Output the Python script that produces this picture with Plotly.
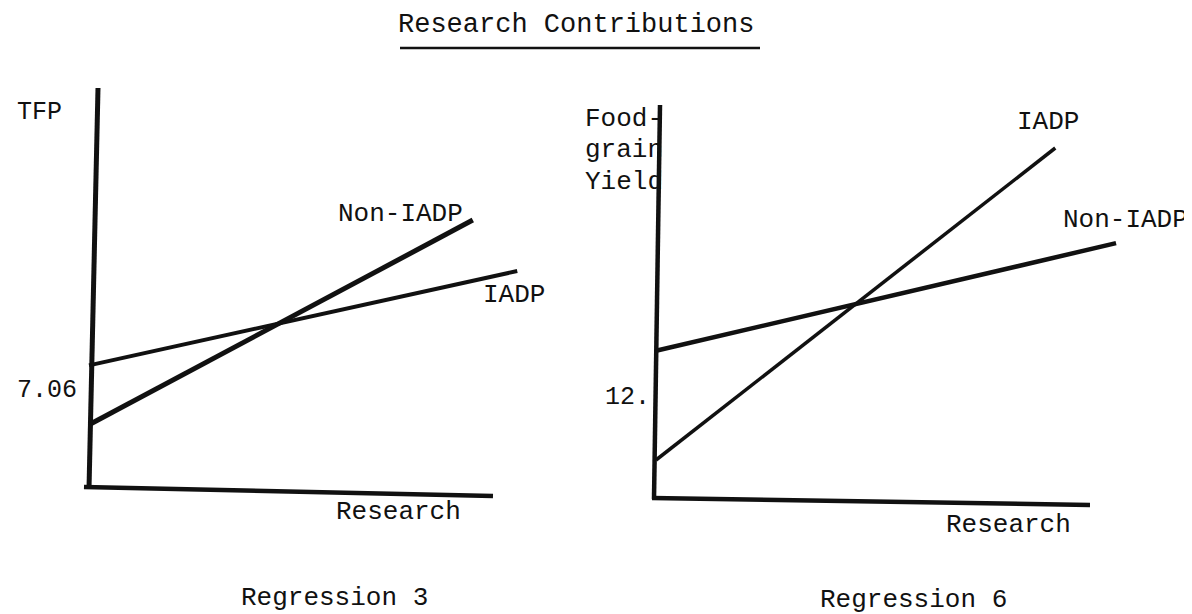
import plotly.graph_objects as go

# ---------------- data (conceptual diagram values) ----------------
# Regression 3 : TFP vs Research
reg3_iadp_research = [0.0, 10.6]
reg3_iadp_tfp = [7.30, 8.30]
reg3_non_research = [0.0, 9.5]
reg3_non_tfp = [6.67, 8.84]
reg3_tick_vals = [7.06]
reg3_tick_text = ["7.06"]

# Regression 6 : Foodgrain yield vs Research
reg6_iadp_research = [0.0, 9.2]
reg6_iadp_yield = [10.75, 16.75]
reg6_non_research = [0.0, 10.6]
reg6_non_yield = [12.85, 14.92]
reg6_tick_vals = [12]
reg6_tick_text = ["12."]

# ---------------- layout helpers ----------------
W, H = 1192, 614
FONT = "Liberation Mono, Courier New, monospace"
INK = "#111111"


def fx(p):
    return p / W


def fy(p):
    return 1 - p / H


def lin(d0, p0, d1, p1):
    s = (p1 - p0) / (d1 - d0)
    return (lambda p: d0 + (p - p0) / s)


# pixel <-> data calibration for each panel
L_x = lin(0, 81, 10, 485)
L_y = lin(6, 480, 7.06, 380)
R_x = lin(0, 648, 10, 1082)
R_y = lin(10, 491, 12, 387)

L_dom_x = (70, 520)
L_dom_y = (495, 75)
R_dom_x = (643, 1120)
R_dom_y = (500, 90)

fig = go.Figure()

fig.add_trace(go.Scatter(x=reg3_non_research, y=reg3_non_tfp, mode="lines",
                         line=dict(color=INK, width=5), xaxis="x", yaxis="y",
                         name="Non-IADP", showlegend=False, hoverinfo="skip"))
fig.add_trace(go.Scatter(x=reg3_iadp_research, y=reg3_iadp_tfp, mode="lines",
                         line=dict(color=INK, width=4), xaxis="x", yaxis="y",
                         name="IADP", showlegend=False, hoverinfo="skip"))
fig.add_trace(go.Scatter(x=reg6_iadp_research, y=reg6_iadp_yield, mode="lines",
                         line=dict(color=INK, width=3.5), xaxis="x2", yaxis="y2",
                         name="IADP", showlegend=False, hoverinfo="skip"))
fig.add_trace(go.Scatter(x=reg6_non_research, y=reg6_non_yield, mode="lines",
                         line=dict(color=INK, width=4.5), xaxis="x2", yaxis="y2",
                         name="Non-IADP", showlegend=False, hoverinfo="skip"))

common_x = dict(showgrid=False, zeroline=False, showline=False,
                showticklabels=False, ticks="", fixedrange=True)
common_y = dict(showgrid=False, zeroline=False, showline=False, ticks="",
                tickfont=dict(family=FONT, size=25, color=INK), fixedrange=True,
                ticklabelstandoff=0)

shapes = []


def axis_line(xr, yr, fxm, fym, p_a, p_b, w):
    shapes.append(dict(type="line", xref=xr, yref=yr,
                       x0=fxm(p_a[0]), y0=fym(p_a[1]), x1=fxm(p_b[0]), y1=fym(p_b[1]),
                       line=dict(color=INK, width=w), layer="above"))


# hand-drawn axes (slightly slanted as in the original)
axis_line("x", "y", L_x, L_y, (81, 481), (90, 80), 5)
axis_line("x", "y", L_x, L_y, (76, 479), (485, 488), 4.5)
axis_line("x2", "y2", R_x, R_y, (646, 491), (652, 97), 4.5)
axis_line("x2", "y2", R_x, R_y, (644, 490), (1082, 497), 4.5)

# title underline
shapes.append(dict(type="line", xref="paper", yref="paper",
                   x0=fx(392), x1=fx(752), y0=fy(40), y1=fy(40),
                   line=dict(color=INK, width=2.5)))

annotations = []


def label(text, x, y, size=26, xanchor="center"):
    annotations.append(dict(text=text, xref="paper", yref="paper",
                            x=fx(x), y=fy(y), xanchor=xanchor, yanchor="middle",
                            showarrow=False,
                            font=dict(family=FONT, size=size, color=INK)))


label("Research Contributions", 568, 17, size=27)
label("TFP", 31, 105, size=25)
label("Non-IADP", 392, 206)
label("IADP", 506, 287)
label("Research", 390, 504)
label("Regression 3", 326, 590)

label("Food-", 575, 111, xanchor="left")
label("grain", 575, 142, xanchor="left")
label("Yield", 575, 174, xanchor="left")
label("IADP", 1040, 114)
label("Non-IADP", 1117, 212)
label("Research", 1000, 517)
label("Regression 6", 905, 592)

fig.update_layout(
    width=W, height=H, autosize=False,
    margin=dict(l=0, r=0, t=0, b=0),
    paper_bgcolor="white", plot_bgcolor="rgba(0,0,0,0)",
    xaxis=dict(domain=[fx(L_dom_x[0]), fx(L_dom_x[1])],
               range=[L_x(L_dom_x[0]), L_x(L_dom_x[1])], anchor="y", **common_x),
    yaxis=dict(domain=[fy(L_dom_y[0]), fy(L_dom_y[1])],
               range=[L_y(L_dom_y[0]), L_y(L_dom_y[1])], anchor="x",
               tickvals=reg3_tick_vals, ticktext=reg3_tick_text, **common_y),
    xaxis2=dict(domain=[fx(R_dom_x[0]), fx(R_dom_x[1])],
                range=[R_x(R_dom_x[0]), R_x(R_dom_x[1])], anchor="y2", **common_x),
    yaxis2=dict(domain=[fy(R_dom_y[0]), fy(R_dom_y[1])],
                range=[R_y(R_dom_y[0]), R_y(R_dom_y[1])], anchor="x2",
                tickvals=reg6_tick_vals, ticktext=reg6_tick_text, **common_y),
    shapes=shapes,
    annotations=annotations,
    showlegend=False,
)

fig.write_html("out.html")
